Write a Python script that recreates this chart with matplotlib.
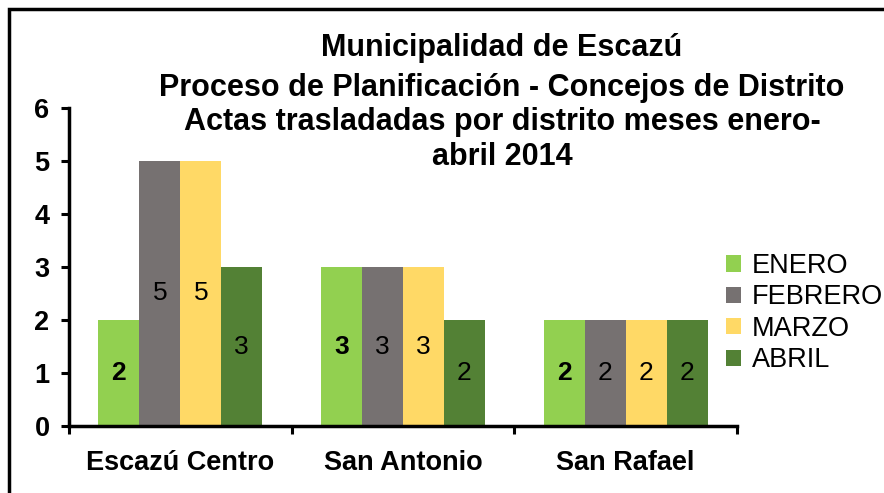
import matplotlib.pyplot as plt
from matplotlib.patches import Rectangle
import numpy as np

distritos = ["Escazú Centro", "San Antonio", "San Rafael"]
meses = ["ENERO", "FEBRERO", "MARZO", "ABRIL"]
enero = [2, 3, 2]
febrero = [5, 3, 2]
marzo = [5, 3, 2]
abril = [3, 2, 2]
colores = ["#92D050", "#767171", "#FFD966", "#538135"]
titulo = [
    "Municipalidad de Escazú",
    "Proceso de Planificación - Concejos de Distrito",
    "Actas trasladadas por distrito meses enero-",
    "abril 2014",
]

plt.rcParams["font.family"] = ["Liberation Sans", "DejaVu Sans"]

fig = plt.figure(figsize=(8.84, 4.93), dpi=100)
ax = fig.add_axes([69 / 884, 1 - 426 / 493, (737 - 69) / 884, (426 - 108) / 493])

series = [enero, febrero, marzo, abril]
x = np.arange(len(distritos))
w = 0.184
for i, (vals, mes, col) in enumerate(zip(series, meses, colores)):
    pos = x + (i - 1.5) * w
    bars = ax.bar(pos, vals, w, color=col, label=mes)
    for b, v in zip(bars, vals):
        ax.text(b.get_x() + b.get_width() / 2, v / 2, str(v),
                ha="center", va="center", fontsize=19,
                fontweight="bold" if i == 0 else "normal")

ax.set_xlim(-0.5, 2.5)
ax.set_ylim(0, 6)
ax.set_yticks(range(7))
ax.set_xticks(x)
ax.set_xticklabels(distritos, fontsize=19.5, fontweight="bold")
ax.set_xticks([-0.5, 0.5, 1.5, 2.5], minor=True)
ax.tick_params(axis="x", which="major", length=0, pad=17)
ax.tick_params(axis="x", which="minor", length=6, width=2.2, direction="out")
ax.tick_params(axis="y", length=6, width=2.2, labelsize=19.5, pad=8)
for t in ax.get_yticklabels():
    t.set_fontweight("bold")
for s in ["top", "right"]:
    ax.spines[s].set_visible(False)
for s in ["left", "bottom"]:
    ax.spines[s].set_linewidth(2.5)

ax.legend(loc="upper left", bbox_to_anchor=(726 / 884, 1 - 253 / 493),
          bbox_transform=fig.transFigure, frameon=False, fontsize=19.5,
          handlelength=0.55, handleheight=0.55, handletextpad=0.4,
          labelspacing=0.2, borderaxespad=0, borderpad=0)

ys = [48, 88, 122, 157]
for linea, yy in zip(titulo, ys):
    fig.text(502 / 884, 1 - yy / 493, linea, ha="center", va="center",
             fontsize=22, fontweight="bold")

fig.patches.append(Rectangle((9 / 884, -0.1), 1.2, 1 - 9 / 493 + 0.1,
                             transform=fig.transFigure, fill=False,
                             edgecolor="black", linewidth=2.5))

fig.savefig("out.png", dpi=100)
